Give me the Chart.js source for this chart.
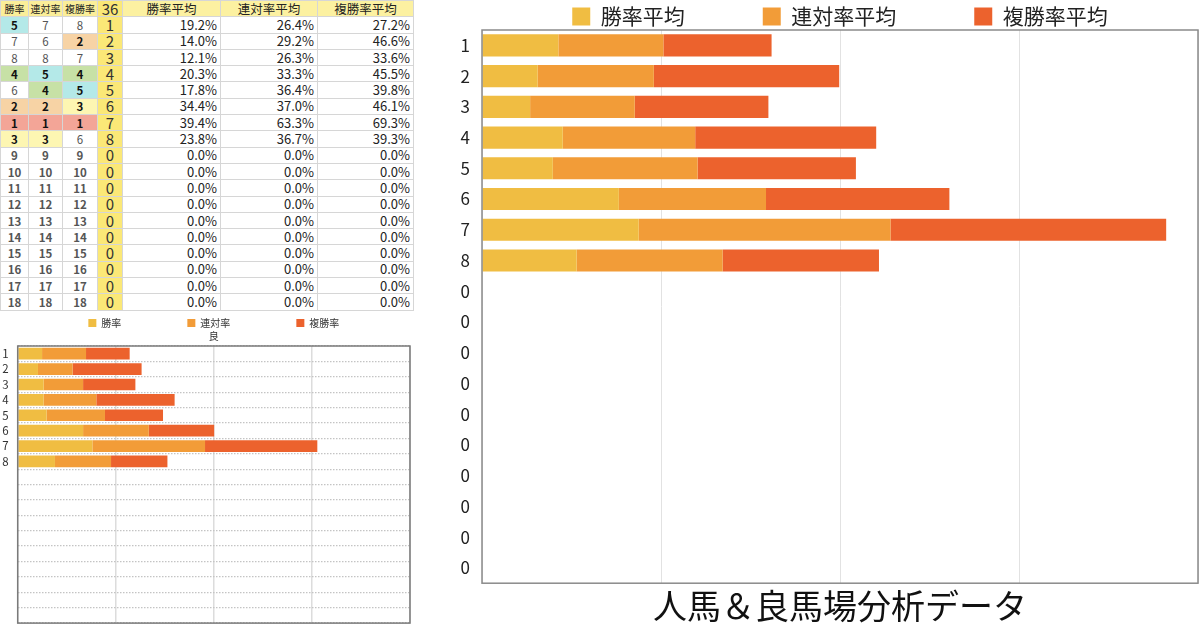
<!DOCTYPE html>
<html lang="ja">
<head>
<meta charset="utf-8">
<title>人馬＆良馬場分析データ</title>
<script src="https://cdn.jsdelivr.net/npm/chart.js@4.4.1/dist/chart.umd.min.js"></script>
<style>
  html, body { margin: 0; padding: 0; background: #fff; }
  body { width: 1200px; height: 625px; overflow: hidden; position: relative; font-family: "Noto Sans CJK JP", "Noto Sans", sans-serif; }
  #sheet { position: absolute; left: 0; top: 0; width: 413px; border-collapse: collapse; table-layout: fixed; }
  #sheet tr { height: 16.3px; }
  #sheet td { border: 1px solid #d6d6d6; padding: 0; line-height: 14px; white-space: nowrap; overflow: hidden; color: #333; }
  #sheet .hs { background: #fbee99; font-size: 10px; text-align: center; color: #222; }
  #sheet .hn { background: #fbe877; font-size: 15px; text-align: center; }
  #sheet .ha { background: #fcf1a1; font-size: 12.5px; text-align: center; color: #222; }
  #sheet .rk { font-size: 11.5px; text-align: center; color: #555; }
  #sheet .rk.hit { font-weight: bold; color: #111; }
  #sheet .rk.low { font-weight: 600; color: #555; }
  #sheet .num { background: #fbe877; font-size: 15px; text-align: center; }
  #sheet .pct { font-size: 13px; text-align: right; padding-right: 3px; color: #222; }
  #smallWrap { position: absolute; left: 0; top: 252px; width: 428px; height: 378px; }
  #bigWrap { position: absolute; left: 440px; top: -72px; width: 800px; height: 699px; }
</style>
</head>
<body>
<table id="sheet">
  <colgroup>
    <col style="width:28px"><col style="width:34px"><col style="width:35px"><col style="width:25px">
    <col style="width:98px"><col style="width:97px"><col style="width:96px">
  </colgroup>
  <tbody id="sheetBody"></tbody>
</table>
<div id="smallWrap"><canvas id="smallChart"></canvas></div>
<div id="bigWrap"><canvas id="bigChart"></canvas></div>
<script>
// 馬番 (0 = 出走なし)
const horseLabels = ['1', '2', '3', '4', '5', '6', '7', '8', '0', '0', '0', '0', '0', '0', '0', '0', '0', '0'];
const raceCount = '36';

// 平均値 (%)
const winAvg = [19.2, 14.0, 12.1, 20.3, 17.8, 34.4, 39.4, 23.8, 0, 0, 0, 0, 0, 0, 0, 0, 0, 0];
const rentaiAvg = [26.4, 29.2, 26.3, 33.3, 36.4, 37.0, 63.3, 36.7, 0, 0, 0, 0, 0, 0, 0, 0, 0, 0];
const fukuAvg = [27.2, 46.6, 33.6, 45.5, 39.8, 46.1, 69.3, 39.3, 0, 0, 0, 0, 0, 0, 0, 0, 0, 0];

// 順位
const winRank = [5, 7, 8, 4, 6, 2, 1, 3, 9, 10, 11, 12, 13, 14, 15, 16, 17, 18];
const rentaiRank = [7, 6, 8, 5, 4, 2, 1, 3, 9, 10, 11, 12, 13, 14, 15, 16, 17, 18];
const fukuRank = [8, 2, 7, 4, 5, 3, 1, 6, 9, 10, 11, 12, 13, 14, 15, 16, 17, 18];

// 良 (小さいグラフ)
const smallLabels = ['1', '2', '3', '4', '5', '6', '7', '8', '', '', '', '', '', '', '', '', '', ''];
const smallWin = [14.9, 12.4, 15.9, 15.9, 17.7, 40.0, 45.7, 22.8, 0, 0, 0, 0, 0, 0, 0, 0, 0, 0];
const smallRentai = [26.9, 21.2, 24.1, 32.2, 35.7, 40.2, 68.9, 34.3, 0, 0, 0, 0, 0, 0, 0, 0, 0, 0];
const smallFuku = [26.7, 42.2, 32.0, 47.9, 35.5, 40.0, 68.7, 34.5, 0, 0, 0, 0, 0, 0, 0, 0, 0, 0];

const rankColors = { 1: '#f3a597', 2: '#f7d3a5', 3: '#fdf6b2', 4: '#c7e1a6', 5: '#b4e9e8' };
const barColors = ['#f0bd42', '#f29c38', '#ec622d'];

function rankCell(r) {
  const bg = rankColors[r];
  const cls = bg ? 'rk hit' : (r >= 9 ? 'rk low' : 'rk');
  return `<td class="${cls}"${bg ? ` style="background:${bg}"` : ''}>${r}</td>`;
}

function renderSheet() {
  let html = '<tr><td class="hs">勝率</td><td class="hs">連対率</td><td class="hs">複勝率</td>' +
    `<td class="hn">${raceCount}</td><td class="ha">勝率平均</td><td class="ha">連対率平均</td><td class="ha">複勝率平均</td></tr>`;
  horseLabels.forEach((h, i) => {
    html += '<tr>' + rankCell(winRank[i]) + rankCell(rentaiRank[i]) + rankCell(fukuRank[i]) +
      `<td class="num">${h}</td>` +
      `<td class="pct">${winAvg[i].toFixed(1)}%</td>` +
      `<td class="pct">${rentaiAvg[i].toFixed(1)}%</td>` +
      `<td class="pct">${fukuAvg[i].toFixed(1)}%</td></tr>`;
  });
  document.getElementById('sheetBody').innerHTML = html;
}
renderSheet();

Chart.defaults.font.family = '"Noto Sans CJK JP", "Noto Sans", sans-serif';

// plot area outline
const frame = {
  id: 'frame',
  afterDatasetsDraw(chart, args, opts) {
    const { ctx, chartArea: a } = chart;
    ctx.save();
    ctx.strokeStyle = opts.color;
    ctx.lineWidth = opts.width;
    ctx.strokeRect(a.left, a.top, a.right - a.left, a.bottom - a.top);
    ctx.restore();
  }
};

new Chart(document.getElementById('smallChart'), {
  type: 'bar',
  data: {
    labels: smallLabels,
    datasets: [
      { label: '勝率', data: smallWin, backgroundColor: barColors[0] },
      { label: '連対率', data: smallRentai, backgroundColor: barColors[1] },
      { label: '複勝率', data: smallFuku, backgroundColor: barColors[2] }
    ]
  },
  options: {
    indexAxis: 'y',
    responsive: true,
    maintainAspectRatio: false,
    animation: false,
    datasets: { bar: { categoryPercentage: 1, barPercentage: 0.76 } },
    layout: { padding: { left: 0, right: 18, top: 0, bottom: 0 } },
    scales: {
      x: {
        stacked: true, min: 0, max: 240,
        ticks: { display: false, stepSize: 60, autoSkip: false },
        grid: { color: '#dcdcdc', lineWidth: 1.5, drawTicks: false },
        border: { display: false }
      },
      y: {
        stacked: true,
        ticks: { color: '#333', font: { size: 11.5 }, padding: 0, autoSkip: false },
        grid: { color: '#c4c4c4', lineWidth: 1.3, tickColor: 'transparent', tickLength: 9 },
        border: { display: false, dash: [1.5, 1.5] },
        afterFit: (s) => { s.width = 17.7; }
      }
    },
    plugins: {
      legend: {
        position: 'top', fullSize: false, maxHeight: 76,
        labels: { boxWidth: 8, boxHeight: 8, padding: 66, color: '#333', font: { size: 10 } }
      },
      title: {
        display: true, text: '良', weight: 500, fullSize: false, color: '#333',
        font: { size: 10, weight: 'normal' }, padding: { top: 2, bottom: 4 }
      },
      tooltip: { enabled: false },
      frame: { color: '#7a7a7a', width: 1.5 }
    }
  },
  plugins: [frame]
});

new Chart(document.getElementById('bigChart'), {
  type: 'bar',
  data: {
    labels: horseLabels,
    datasets: [
      { label: '勝率平均', data: winAvg, backgroundColor: barColors[0] },
      { label: '連対率平均', data: rentaiAvg, backgroundColor: barColors[1] },
      { label: '複勝率平均', data: fukuAvg, backgroundColor: barColors[2] }
    ]
  },
  options: {
    indexAxis: 'y',
    responsive: true,
    maintainAspectRatio: false,
    animation: false,
    datasets: { bar: { categoryPercentage: 1, barPercentage: 0.72 } },
    layout: { padding: { left: 0, right: 42, top: 0, bottom: 0 } },
    scales: {
      x: {
        stacked: true, min: 0, max: 180,
        ticks: { display: false, stepSize: 45, autoSkip: false },
        grid: { color: '#e2e2e2', drawTicks: false },
        border: { display: false }
      },
      y: {
        stacked: true,
        ticks: { color: '#222', font: { size: 17 }, padding: 0, autoSkip: false },
        grid: { color: 'transparent', tickColor: 'transparent', tickLength: 12 },
        border: { display: false },
        afterFit: (s) => { s.width = 42; }
      }
    },
    plugins: {
      legend: {
        position: 'top', fullSize: false, maxHeight: 102,
        labels: { boxWidth: 18, boxHeight: 18, padding: 78, color: '#222', font: { size: 21 } }
      },
      title: {
        display: true, position: 'bottom', fullSize: false, text: '人馬＆良馬場分析データ', color: '#111',
        font: { size: 34, weight: 'normal' }, padding: { top: 2, bottom: 1 }
      },
      tooltip: { enabled: false },
      frame: { color: '#8a8a8a', width: 1.5 }
    }
  },
  plugins: [frame]
});
</script>
</body>
</html>
